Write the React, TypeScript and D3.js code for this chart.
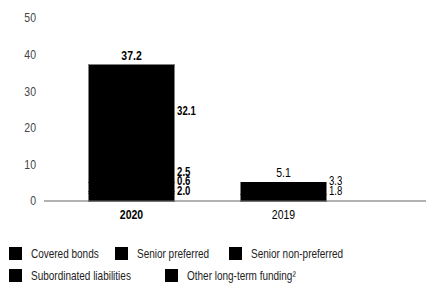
import React from 'react';
import * as d3 from 'd3';

const years = ['2020', '2019'];
const seriesNames = [
  'Covered bonds',
  'Senior preferred',
  'Senior non-preferred',
  'Subordinated liabilities',
  'Other long-term funding²',
];
const coveredBonds = [2.0, 1.8];
const seniorPreferred = [0.6, 3.3];
const seniorNonPreferred = [2.5, 0];
const subordinated = [0, 0];
const otherLongTerm = [32.1, 0];
const totals = [37.2, 5.1];
const yTicks = [0, 10, 20, 30, 40, 50];

const W = 426;
const H = 284;
const FONT = "'Liberation Sans', Arial, sans-serif";

function T(props: any) {
  const { x, y, sx = 0.84, children, ...rest } = props;
  return (
    <text transform={`translate(${x},${y}) scale(${sx},1)`} {...rest}>
      {children}
    </text>
  );
}

export default function App() {
  const seriesValues = [coveredBonds, seniorPreferred, seniorNonPreferred, subordinated, otherLongTerm];
  const rows = years.map((y, i) => {
    const r: any = { year: y };
    seriesNames.forEach((s, k) => (r[s] = seriesValues[k][i]));
    return r;
  });
  const stack = d3.stack<any>().keys(seriesNames)(rows);

  const y = d3.scaleLinear().domain([0, 50]).range([201, 18]);
  const x = d3.scaleBand<string>().domain(years).range([44, 371]).paddingInner(0.44).paddingOuter(0.296);

  // legend layout slots
  const legendPos = [
    [9, 247], [115, 247], [229, 247],
    [9, 269], [165, 269],
  ];

  return (
    <svg width={W} height={H} style={{ position: 'absolute', left: 0, top: 0 }} fontFamily={FONT}>
      <rect width={W} height={H} fill="#fff" />
      {/* y ticks */}
      {yTicks.map((t) => (
        <T key={t} x={36} y={y(t)} dy="0.35em" textAnchor="end" fontSize={12.5} fill="#444">
          {t}
        </T>
      ))}
      {/* bars */}
      <g shapeRendering="crispEdges">
        {stack.map((layer) =>
          layer.map((d, i) =>
            d[1] - d[0] > 0 ? (
              <rect
                key={layer.key + i}
                x={x(years[i])!}
                width={x.bandwidth()}
                y={y(d[1])}
                height={y(d[0]) - y(d[1])}
                fill="#000"
                stroke="#000"
                strokeWidth={0.5}
              />
            ) : null
          )
        )}
      </g>
      {/* axis line */}
      <line x1={44} x2={W} y1={y(0)} y2={y(0)} stroke="#666" strokeWidth={1} />
      {/* totals */}
      {years.map((yr, i) => (
        <T
          key={'t' + yr}
          x={x(yr)! + x.bandwidth() / 2}
          y={y(totals[i]) - 5}
          textAnchor="middle"
          fontSize={12.5}
          fontWeight={i === 0 ? 'bold' : 'normal'}
          fill="#000"
        >
          {totals[i].toFixed(1)}
        </T>
      ))}
      {/* segment labels */}
      {years.map((yr, i) => {
        const segs = stack
          .map((layer) => ({ v: layer[i][1] - layer[i][0], mid: y((layer[i][0] + layer[i][1]) / 2) }))
          .filter((s) => s.v > 0);
        const out: any[] = [];
        let prev = y(0) - 1;
        segs.forEach((s, k) => {
          let pos = Math.min(s.mid, prev - 9.5);
          if (k === segs.length - 1 && s.v > 10) pos = s.mid - 13;
          prev = pos;
          out.push(
            <T
              key={'s' + yr + k}
              x={x(yr)! + x.bandwidth() + 3}
              y={pos}
              dy="0.35em"
              fontSize={12}
              sx={0.8}
              fontWeight={i === 0 ? 'bold' : 'normal'}
              fill="#000"
            >
              {s.v.toFixed(1)}
            </T>
          );
        });
        return <g key={'g' + yr}>{out}</g>;
      })}
      {/* x labels */}
      {years.map((yr, i) => (
        <T
          key={'x' + yr}
          x={x(yr)! + x.bandwidth() / 2}
          y={219}
          textAnchor="middle"
          fontSize={12.5}
          fontWeight={i === 0 ? 'bold' : 'normal'}
          fill="#000"
        >
          {yr}
        </T>
      ))}
      {/* legend */}
      {seriesNames.map((s, k) => (
        <g key={'l' + s} transform={`translate(${legendPos[k][0]},${legendPos[k][1]})`}>
          <rect width={13} height={13} fill="#000" />
          <T x={22} y={6.5} dy="0.35em" fontSize={12.5} sx={0.8} fill="#222">
            {s}
          </T>
        </g>
      ))}
    </svg>
  );
}
